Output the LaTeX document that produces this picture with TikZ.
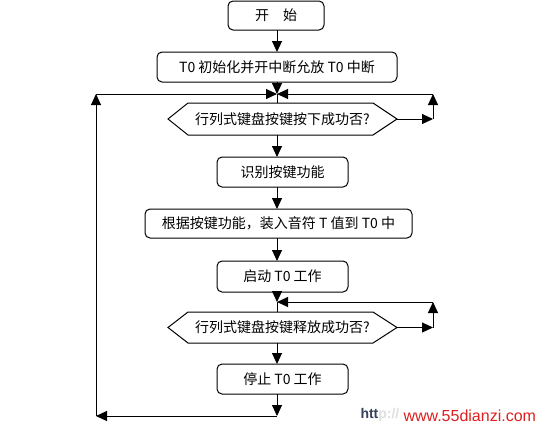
\documentclass[tikz,border=0pt]{standalone}
\usepackage{fontspec}
\setmainfont{Noto Sans CJK SC}
\newfontfamily\wmfont{Liberation Sans}
\usetikzlibrary{arrows.meta,calc}
\definecolor{wmred}{RGB}{222,32,32}
\definecolor{wmdark}{RGB}{55,65,90}
\begin{document}
\begin{tikzpicture}[x=1pt,y=-1pt, line width=1pt,
  box/.style={draw, rounded corners=5pt, minimum height=30pt, inner sep=0pt, outer sep=0pt, font=\fontsize{14}{16}\selectfont},
  dec/.style={inner sep=0pt, outer sep=0pt, minimum width=229pt, minimum height=32pt, font=\fontsize{14}{16}\selectfont},
  flow/.style={-{Triangle[length=11pt,width=10pt]}},
  wm/.style={anchor=base west, inner sep=0pt}
]
\fill[white] (0,0) rectangle (540,426);
\useasboundingbox (0,0) rectangle (540,426);

\node[box, minimum width=96pt, minimum height=29pt] (start) at (276,15.5) {开\hspace{1em}始};
\node[box, minimum width=240pt] (init) at (277,67) {T0 初始化并开中断允放 T0 中断};
\node[dec] (d1) at (282.5,119) {行列式键盘按键按下成功否?};
\node[box, minimum width=131pt] (b3) at (282.5,172) {识别按键功能};
\node[box, minimum width=267pt, minimum height=29pt] (b4) at (278.5,223.5) {根据按键功能，装入音符 T 值到 T0 中};
\node[box, minimum width=131pt, minimum height=31pt] (b5) at (282.5,276.5) {启动 T0 工作};
\node[dec, minimum height=31pt] (d2) at (282.5,327.5) {行列式键盘按键释放成功否?};
\node[box, minimum width=131pt] (b6) at (282.5,379) {停止 T0 工作};

\foreach \d in {d1,d2}{
  \draw (\d.west) -- ([xshift=20pt]\d.north west) -- ([xshift=-24pt]\d.north east) -- (\d.east)
        -- ([xshift=-24pt]\d.south east) -- ([xshift=20pt]\d.south west) -- cycle;
}

\coordinate (sp) at (277,0);
\coordinate (lx) at (96,0);
\coordinate (rx) at (433,0);
\coordinate (j1) at (277,94);
\coordinate (j2) at (277,302);
\coordinate (j3) at (277,416);

\draw[flow] (start.south -| sp) -- (init.north -| sp);
\draw[flow] (init.south -| sp) -- (j1);
\draw (j1) -- (d1.north -| sp);
\draw[flow] (d1.south -| sp) -- (b3.north -| sp);
\draw[flow] (b3.south -| sp) -- (b4.north -| sp);
\draw[flow] (b4.south -| sp) -- (b5.north -| sp);
\draw[flow] (b5.south -| sp) -- (j2);
\draw (j2) -- (d2.north -| sp);
\draw[flow] (d2.south -| sp) -- (b6.north -| sp);
\draw[flow] (b6.south -| sp) -- (j3);

\draw[flow] (j3) -- (j3 -| lx);
\draw[flow] (j3 -| lx) -- (j1 -| lx);
\draw[flow] (j1 -| lx) -- (j1);

\draw[flow] (d1.east) -- (d1.east -| rx);
\draw[flow] (d1.east -| rx) -- (j1 -| rx);
\draw[flow] (j1 -| rx) -- (j1);

\draw[flow] (d2.east) -- (d2.east -| rx);
\draw[flow] (d2.east -| rx) -- (j2 -| rx);
\draw[flow] (j2 -| rx) -- (j2);

\node[wm, font=\wmfont\bfseries\fontsize{14}{16}\selectfont] (wm1) at (360,418) {\textcolor{wmdark}{htt}\textcolor{black!12}{p://}};
\node[wm, font=\wmfont\fontsize{16}{18}\selectfont, text=wmred] (wm2) at (403,421) {www.55dianzi.com};
\end{tikzpicture}
\end{document}
